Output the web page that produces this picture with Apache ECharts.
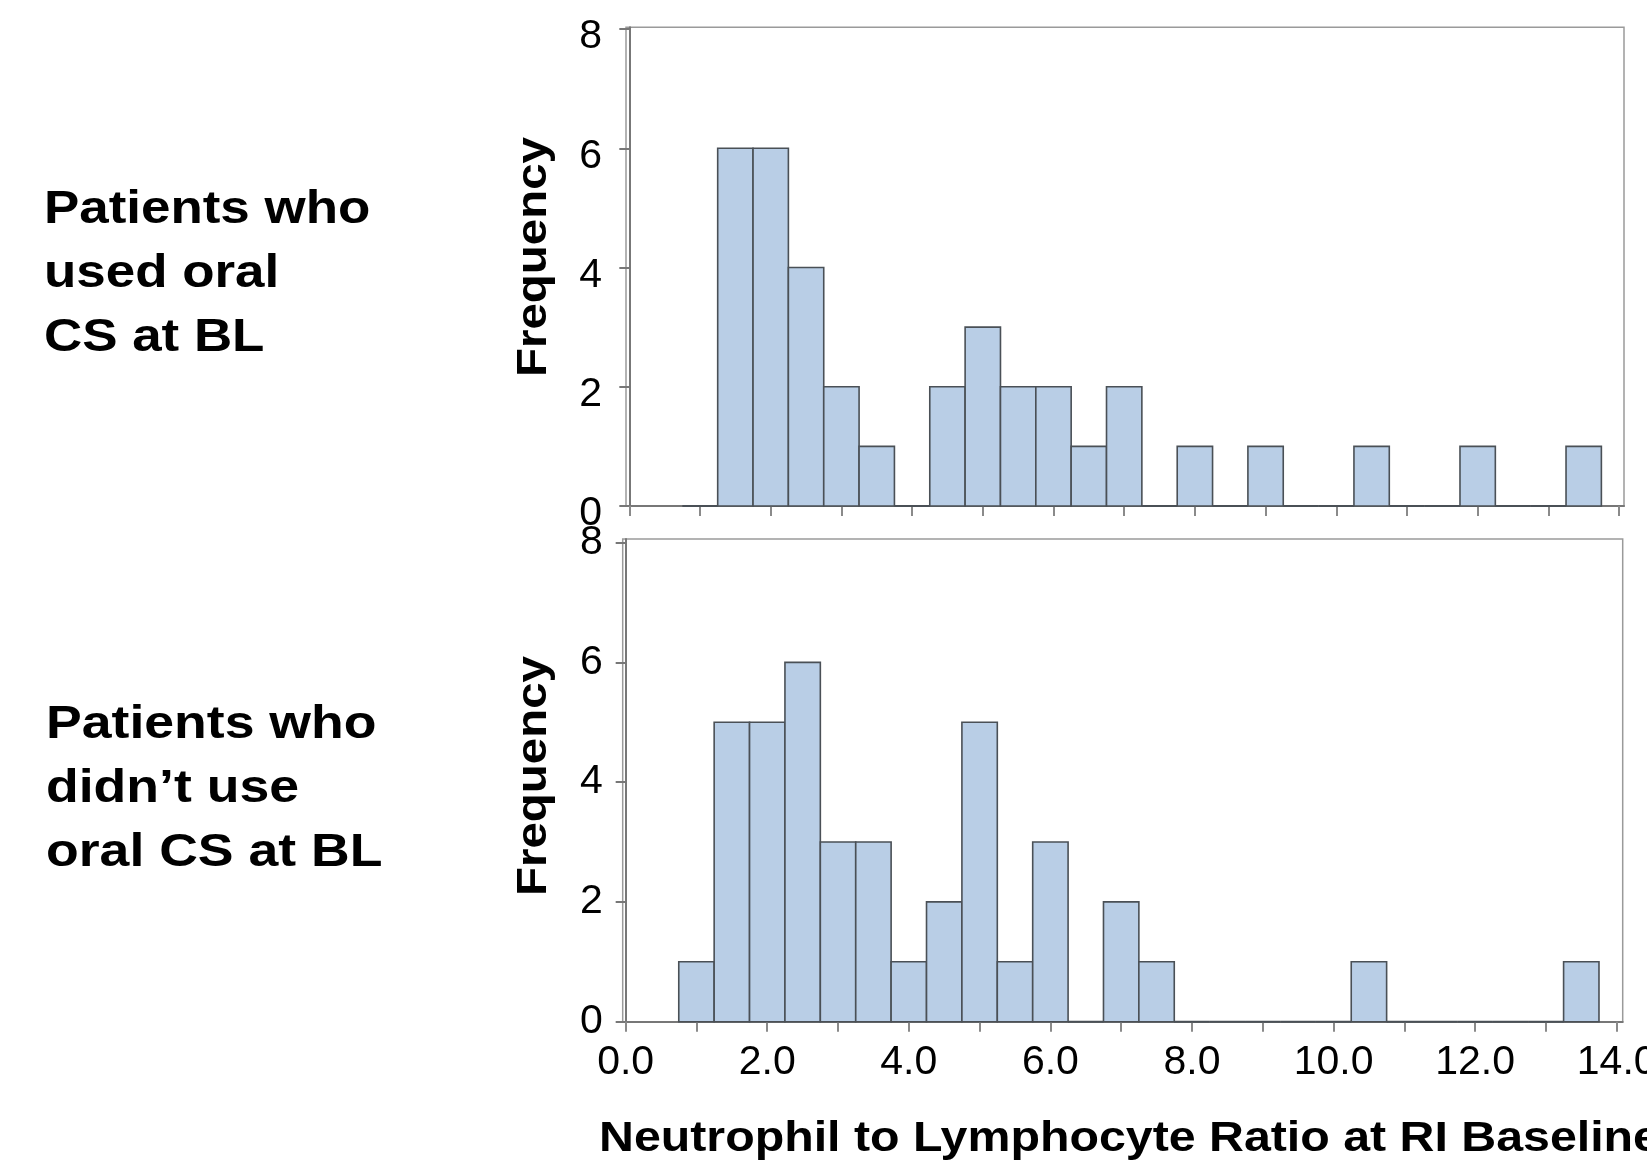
<!DOCTYPE html>
<html><head><meta charset="utf-8">
<script src="https://cdn.jsdelivr.net/npm/echarts@6/dist/echarts.min.js"></script>
<style>html,body{margin:0;padding:0;background:#fff}#c{width:1647px;height:1168px}</style>
</head><body><div id="c"></div>
<script>
// ---- data ----
const binLower = [0.75,1.25,1.75,2.25,2.75,3.25,3.75,4.25,4.75,5.25,5.75,6.25,6.75,7.25,7.75,8.25,8.75,9.25,9.75,10.25,10.75,11.25,11.75,12.25,12.75,13.25];
const binWidth = 0.5;
const countsOralCS   = [0,6,6,4,2,1,0,2,3,2,2,1,2,0,1,0,1,0,0,1,0,0,1,0,0,1];
const countsNoOralCS = [1,5,5,6,3,3,1,2,5,1,3,0,2,1,0,0,0,0,0,1,0,0,0,0,0,1];
const xTickValues  = [0,1,2,3,4,5,6,7,8,9,10,11,12,13,14];
const xLabelValues = [0,2,4,6,8,10,12,14];
const yTickValues  = [0,2,4,6,8];
const groupLabelTop    = ['Patients who','used oral','CS at BL'];
const groupLabelBottom = ['Patients who','didn\u2019t use','oral CS at BL'];
const yTitle = 'Frequency';
const xTitle = 'Neutrophil to Lymphocyte Ratio at RI Baseline';

// ---- styles ----
const FONT = "'Liberation Sans', Arial, Helvetica, sans-serif";
const AXIS_GRAY = '#777';
const FRAME_GRAY = '#9a9a9a';
const BAR_FILL = '#b9cee6';
const BAR_STROKE = '#4a5056';

function histData(counts){ return binLower.map((b,i)=>[b, b+binWidth, counts[i]]); }

function renderHist(params, api){
  const x0 = api.value(0), x1 = api.value(1), c = api.value(2);
  const p0 = api.coord([x0, c]);
  const p1 = api.coord([x1, 0]);
  if (c === 0) {
    return {type:'line', shape:{x1:p0[0], y1:p1[1], x2:p1[0], y2:p1[1]},
            style:{stroke:BAR_STROKE, lineWidth:2}};
  }
  return {type:'rect', shape:{x:p0[0], y:p0[1], width:p1[0]-p0[0], height:p1[1]-p0[1]},
          style:{fill:BAR_FILL, stroke:BAR_STROKE, lineWidth:1.6}};
}

function xAxisCfg(gridIndex, min, max, showLabels){
  return {
    type:'value', gridIndex, min, max,
    axisLine:{show:true, onZero:false, lineStyle:{color:AXIS_GRAY, width:2}},
    axisTick:{show:true, customValues:xTickValues, length:10, lineStyle:{color:'#8a8a8a', width:2}},
    axisLabel:{show:showLabels, customValues:xLabelValues, margin:20, color:'#000', fontSize:41, fontFamily:FONT,
               formatter:v=>v.toFixed(1)},
    splitLine:{show:false}
  };
}
function yAxisCfg(gridIndex, max, margin, labelExtra){
  return {
    type:'value', gridIndex, min:0, max,
    axisLine:{show:true, lineStyle:{color:AXIS_GRAY, width:2}},
    axisTick:{show:true, customValues:yTickValues, length:10, lineStyle:{color:AXIS_GRAY, width:2}},
    axisLabel:Object.assign({show:true, customValues:yTickValues, margin, color:'#000', fontSize:41, fontFamily:FONT}, labelExtra),
    splitLine:{show:false}
  };
}

function textLine(str, x, baseline, size, scaleX){
  return {type:'text', x, y: baseline - 0.35*size, scaleX: scaleX, scaleY:1, silent:true,
          style:{text:str, x:0, y:0, fill:'#000', font:'bold '+size+'px '+FONT, align:'left', verticalAlign:'middle'}};
}

const chart = echarts.init(document.getElementById('c'), null, {renderer:'canvas'});
const graphics = [];
[226, 290, 354].forEach((b,i)=>graphics.push(textLine(groupLabelTop[i], 44, b, 46, 1.15)));
[741, 805, 869].forEach((b,i)=>graphics.push(textLine(groupLabelBottom[i], 46, b, 46, 1.165)));
graphics.push({type:'text', x:534, y:257, rotation:Math.PI/2, scaleX:1.13, silent:true,
  style:{text:yTitle, x:0, y:0, fill:'#000', font:'bold 42px '+FONT, align:'center', verticalAlign:'middle'}});
graphics.push({type:'text', x:534, y:776, rotation:Math.PI/2, scaleX:1.13, silent:true,
  style:{text:yTitle, x:0, y:0, fill:'#000', font:'bold 42px '+FONT, align:'center', verticalAlign:'middle'}});
graphics.push(textLine(xTitle, 599, 1154, 42, 1.15));

chart.setOption({
  animation:false,
  backgroundColor:'#fff',
  grid:[
    {left:626, top:27.3, width:998, height:478.7, show:true, borderColor:FRAME_GRAY, borderWidth:1.5, backgroundColor:'transparent', containLabel:false, outerBoundsMode:'none'},
    {left:622.7, top:539, width:1000, height:482.7, show:true, borderColor:FRAME_GRAY, borderWidth:1.5, backgroundColor:'transparent', containLabel:false, outerBoundsMode:'none'}
  ],
  xAxis:[ xAxisCfg(0, -0.047, 14.07, false), xAxisCfg(1, -0.042, 14.085, true) ],
  yAxis:[ yAxisCfg(0, 8.03, 24, {verticalAlign:'top', lineHeight:16}), yAxisCfg(1, 8.06, 20, {}) ],
  series:[
    {type:'custom', xAxisIndex:0, yAxisIndex:0, renderItem:renderHist, data:histData(countsOralCS), encode:{x:[0,1], y:2}},
    {type:'custom', xAxisIndex:1, yAxisIndex:1, renderItem:renderHist, data:histData(countsNoOralCS), encode:{x:[0,1], y:2}}
  ],
  graphic:graphics
});
</script></body></html>
